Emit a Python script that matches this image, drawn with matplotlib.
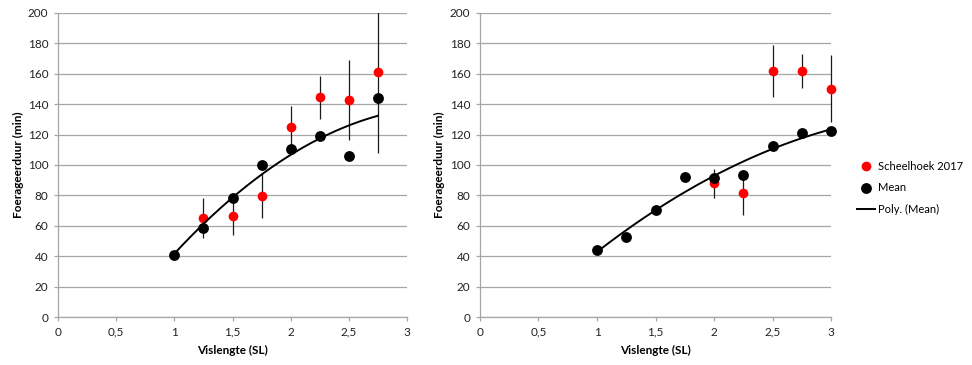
"""Foraging duration versus fish length, two panels with quadratic trendlines."""

import matplotlib.pyplot as plt
import numpy as np
from matplotlib.patches import Rectangle

plt.rcParams["font.family"] = ["Lato", "DejaVu Sans"]

# Left panel
left_mean_x = [1.0, 1.25, 1.5, 1.75, 2.0, 2.25, 2.5, 2.75]
left_mean_y = [41.0, 58.8, 78.6, 99.9, 110.4, 119.0, 106.0, 144.0]
left_obs_x = [1.25, 1.5, 1.75, 2.0, 2.25, 2.5, 2.75]
left_obs_y = [65.2, 66.5, 79.7, 124.7, 144.5, 142.9, 161.1]
left_obs_err = [13.3, 12.5, 14.6, 14.3, 14.0, 26.2, 53.0]

# Right panel
right_mean_x = [1.0, 1.25, 1.5, 1.75, 2.0, 2.25, 2.5, 2.75, 3.0]
right_mean_y = [44.1, 52.5, 70.3, 91.8, 91.3, 93.5, 112.4, 121.0, 122.5]
right_obs_x = [2.0, 2.25, 2.5, 2.75, 3.0]
right_obs_y = [88.0, 81.9, 161.8, 161.8, 150.2]
right_obs_err = [9.5, 14.8, 17.0, 11.0, 22.0]

x_ticks = [0, 0.5, 1, 1.5, 2, 2.5, 3]
x_tick_labels = ["0", "0,5", "1", "1,5", "2", "2,5", "3"]
y_ticks = list(range(0, 201, 20))

GRID = "#a6a6a6"
RED = "#ff0000"
FS = 8.5


def draw_panel(ax, mean_x, mean_y, obs_x, obs_y, obs_err):
    # clip only at the top of the value axis so points at x=3 stay whole
    clip = Rectangle((-1, -50), 5, 250, transform=ax.transData)

    eb = ax.errorbar(obs_x, obs_y, yerr=obs_err, fmt="none", ecolor="#1a1a1a",
                     elinewidth=0.9, capsize=0, zorder=3)
    for coll in eb.lines[2]:
        coll.set_clip_path(clip)
    ax.plot(obs_x, obs_y, "o", color=RED, markersize=7, markeredgewidth=0,
            label="Scheelhoek 2017", zorder=4, clip_on=False)
    ax.plot(mean_x, mean_y, "o", color="black", markersize=7.8,
            markeredgewidth=0, label="Mean", zorder=5, clip_on=False)

    # order-2 polynomial trendline through the means
    coef = np.polyfit(mean_x, mean_y, 2)
    xs = np.linspace(min(mean_x), max(mean_x), 200)
    ax.plot(xs, np.polyval(coef, xs), color="black", linewidth=1.4,
            label="Poly. (Mean)", zorder=6, clip_on=False)

    ax.set_xlim(0, 3)
    ax.set_ylim(0, 200)
    ax.set_xticks(x_ticks)
    ax.set_xticklabels(x_tick_labels)
    ax.set_yticks(y_ticks)
    ax.grid(axis="y", color=GRID, linewidth=0.9)
    ax.set_axisbelow(True)
    for side in ("top", "right"):
        ax.spines[side].set_visible(False)
    for side in ("left", "bottom"):
        ax.spines[side].set_color(GRID)
        ax.spines[side].set_linewidth(0.9)
    ax.tick_params(axis="both", colors=GRID, labelcolor="#222222",
                   labelsize=FS, length=3, width=0.9, pad=4)
    ax.set_xlabel("Vislengte (SL)", fontsize=FS, fontweight="bold", labelpad=5)
    ax.set_ylabel("Foerageerduur (min)", fontsize=FS, fontweight="bold", labelpad=3)


fig = plt.figure(figsize=(9.72, 3.65), dpi=100)
ax_left = fig.add_axes([0.0597, 0.1315, 0.359, 0.8329])
ax_right = fig.add_axes([0.4938, 0.1315, 0.3612, 0.8329])

draw_panel(ax_left, left_mean_x, left_mean_y, left_obs_x, left_obs_y, left_obs_err)
draw_panel(ax_right, right_mean_x, right_mean_y, right_obs_x, right_obs_y, right_obs_err)

handles, labels = ax_right.get_legend_handles_labels()
fig.legend(handles, labels, loc="center left", bbox_to_anchor=(0.877, 0.485),
           frameon=False, fontsize=8, handlelength=1.6, handletextpad=0.3,
           labelspacing=0.95, borderaxespad=0)

fig.savefig("out.png", dpi=100)
